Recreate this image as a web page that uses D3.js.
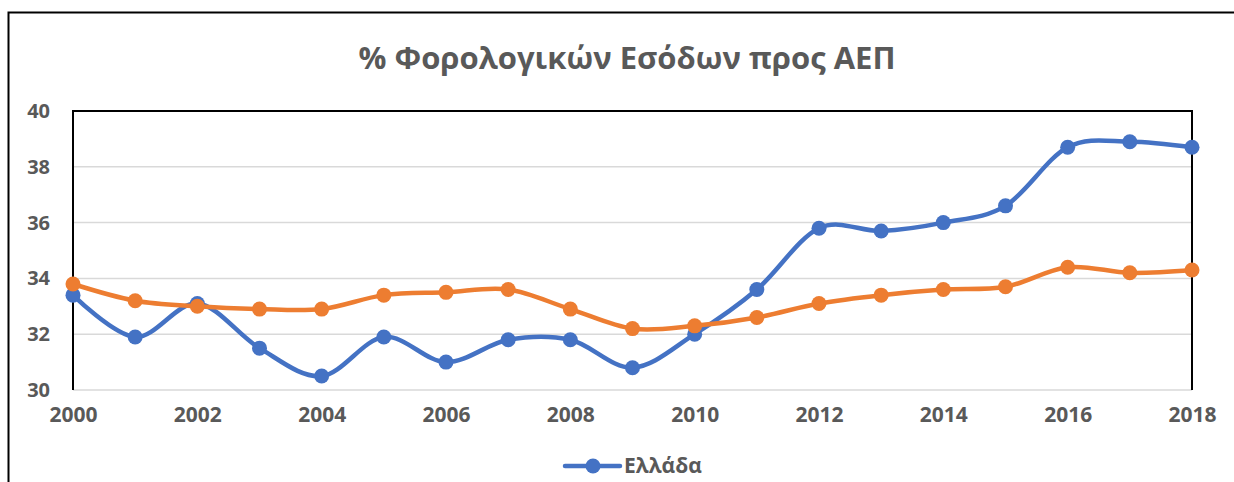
<!DOCTYPE html>
<html>
<head>
<meta charset="utf-8">
<script src="https://cdn.jsdelivr.net/npm/d3@7"></script>
<style>
  body { margin: 0; background: #fff; }
  svg { display: block; font-family: "Open Sans", "Noto Sans", sans-serif; }
</style>
</head>
<body>
<svg id="chart" width="1234" height="482"></svg>
<script>
"use strict";

const years = d3.range(2000, 2019);
const greece = [33.4, 31.9, 33.1, 31.5, 30.5, 31.9, 31.0, 31.8, 31.8, 30.8, 32.0, 33.6, 35.8, 35.7, 36.0, 36.6, 38.7, 38.9, 38.7];
const other = [33.8, 33.2, 33.0, 32.9, 32.9, 33.4, 33.5, 33.6, 32.9, 32.2, 32.3, 32.6, 33.1, 33.4, 33.6, 33.7, 34.4, 34.2, 34.3];
const yTicks = [30, 32, 34, 36, 38, 40];
const xTicks = d3.range(2000, 2019, 2);

const colors = { blue: "#4472C4", orange: "#ED7D31", text: "#595959", grid: "#d9d9d9" };

const width = 1234;
const height = 482;
const margin = { left: 73, right: 42, top: 111, bottom: 92 };

const svg = d3.select("#chart");

// outer chart frame (only left and top visible)
svg.append("rect")
  .attr("x", 8.5).attr("y", 12.5)
  .attr("width", width + 20).attr("height", height + 20)
  .attr("fill", "none").attr("stroke", "#000").attr("stroke-width", 2);

const x = d3.scaleLinear().domain([2000, 2018]).range([margin.left, width - margin.right]);
const y = d3.scaleLinear().domain([30, 40]).range([height - margin.bottom, margin.top]);

svg.append("text")
  .attr("x", 627).attr("y", 69)
  .attr("text-anchor", "middle")
  .attr("fill", colors.text)
  .style("font-size", "31px").style("font-weight", "bold")
  .text("% Φορολογικών Εσόδων προς ΑΕΠ");

// gridlines
svg.append("g")
  .selectAll("line")
  .data(yTicks.slice(0, -1))
  .join("line")
  .attr("x1", x(2000)).attr("x2", x(2018))
  .attr("y1", (d) => y(d)).attr("y2", (d) => y(d))
  .attr("stroke", colors.grid).attr("stroke-width", 1.5);

// plot border: left, top, right in black
svg.append("path")
  .attr("d", `M${x(2000)},${y(30)}V${y(40)}H${x(2018)}V${y(30)}`)
  .attr("fill", "none").attr("stroke", "#000").attr("stroke-width", 2);

const yAxis = svg.append("g")
  .attr("transform", `translate(${margin.left - 23},0)`)
  .call(d3.axisLeft(y).tickValues(yTicks).tickSize(0).tickPadding(0));
yAxis.select(".domain").remove();
yAxis.selectAll("text")
  .attr("fill", colors.text)
  .style("font-size", "20px").style("font-weight", "bold")
  .style("font-family", "'Open Sans', sans-serif");

const xAxis = svg.append("g")
  .attr("transform", `translate(0,${y(30)})`)
  .call(d3.axisBottom(x).tickValues(xTicks).tickFormat(d3.format("d")).tickSize(0).tickPadding(17));
xAxis.select(".domain").remove();
xAxis.selectAll("text")
  .attr("fill", colors.text)
  .style("font-size", "21px").style("font-weight", "bold")
  .style("font-family", "'Open Sans', sans-serif");

const line = d3.line()
  .x((d, i) => x(years[i]))
  .y((d) => y(d))
  .curve(d3.curveCardinal.tension(0));

[[greece, colors.blue], [other, colors.orange]].forEach(([values, color]) => {
  const g = svg.append("g");
  g.append("path")
    .attr("d", line(values))
    .attr("fill", "none")
    .attr("stroke", color)
    .attr("stroke-width", 4.5)
    .attr("stroke-linecap", "round");
  g.selectAll("circle")
    .data(values)
    .join("circle")
    .attr("cx", (d, i) => x(years[i]))
    .attr("cy", (d) => y(d))
    .attr("r", 7.5)
    .attr("fill", color);
});

// legend
const legend = svg.append("g").attr("transform", "translate(565,466)");
legend.append("line")
  .attr("x1", 0).attr("x2", 55)
  .attr("stroke", colors.blue).attr("stroke-width", 4.5).attr("stroke-linecap", "round");
legend.append("circle").attr("cx", 28).attr("r", 7.5).attr("fill", colors.blue);
legend.append("text")
  .attr("x", 59).attr("y", 7)
  .attr("fill", colors.text)
  .style("font-size", "21px").style("font-weight", "bold")
  .text("Ελλάδα");
</script>
</body>
</html>
